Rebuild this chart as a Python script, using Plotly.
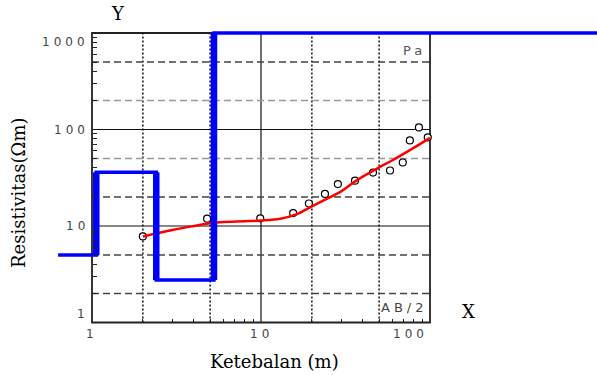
import numpy as np
import plotly.graph_objects as go

# ---------------- data ----------------
# layered model (blue step line)
layer_depth = [1.06, 2.40, 5.27]          # layer boundaries (m)
layer_res = [5.0, 36.0, 2.75, 1000.0]     # layer resistivities (ohm m)
model_x_start = 0.63
model_x_end = 3000.0

# observed apparent resistivity (open circles)
obs_ab2 = [2.0, 4.8, 9.9, 15.5, 19.2, 23.9, 28.5, 36.0, 46.0, 58.0, 69.0, 76.0, 86.0, 97.0]
obs_rho = [7.8, 11.9, 12.0, 13.6, 17.1, 21.5, 27.2, 29.5, 35.8, 37.6, 45.5, 77.0, 105.0, 83.0]

# calculated curve (red)
calc_ab2 = [2, 3, 4, 5, 6, 8, 10, 13, 16, 20, 25, 30, 35, 40, 50, 60, 80, 100]
calc_rho = [7.8, 9.1, 10.0, 10.7, 11.0, 11.2, 11.4, 11.9, 13.1, 16.0, 19.5, 23.0, 28.0, 32.5, 40.5, 48.0, 64.5, 82.0]

x_tick_vals = [1, 10, 100]
x_tick_text = ["1", "10", "100"]
y_tick_vals = [1000, 100, 10, 1]
y_tick_text = ["1000", "100", "10", "1"]

x_grid_solid = [10]
x_grid_dot = [2, 5, 20, 50]
y_grid_solid = [10, 100]
y_grid_dash_dark = [2, 5, 20, 500]
y_grid_dash_light = [50, 200]

# ---------------- geometry (pixels) ----------------
W, H = 597, 375
X1_PX, DEC_X = 92.0, 169.0      # pixel of x=1, pixels per decade
Y1_PX, DEC_Y = 322.5, 96.5      # pixel of y=1, pixels per decade
x_range = [(0 - X1_PX) / DEC_X, (W - X1_PX) / DEC_X]
y_range = [(Y1_PX - H) / DEC_Y, (Y1_PX - 0) / DEC_Y]
xpos_paper = X1_PX / W
ypos_paper = (H - Y1_PX) / H
X_MIN, X_MAX, Y_MIN, Y_MAX = 1, 100, 1, 1000

# ---------------- build step line ----------------
bx, by = [model_x_start], [layer_res[0]]
vx, vy = [], []
for i, d in enumerate(layer_depth):
    bx += [d, d]
    by += [layer_res[i], layer_res[i + 1]]
    vx += [d, d, None]
    vy += [layer_res[i], layer_res[i + 1], None]
bx.append(model_x_end)
by.append(layer_res[-1])

fig = go.Figure()
fig.add_trace(go.Scatter(x=obs_ab2, y=obs_rho, mode="markers",
                         marker=dict(symbol="circle", size=7, color="white",
                                     line=dict(color="black", width=1.2)),
                         showlegend=False))
fig.add_trace(go.Scatter(x=calc_ab2, y=calc_rho, mode="lines",
                         line=dict(color="#ff0000", width=2.5, shape="spline"),
                         showlegend=False))
fig.add_trace(go.Scatter(x=bx, y=by, mode="lines",
                         line=dict(color="#0000ff", width=3.5),
                         showlegend=False))
fig.add_trace(go.Scatter(x=vx, y=vy, mode="lines",
                         line=dict(color="#0000ff", width=6.5),
                         showlegend=False))

shapes = []
for v in x_grid_dot:
    shapes.append(dict(type="line", xref="x", yref="y", x0=v, x1=v, y0=Y_MIN, y1=Y_MAX,
                       line=dict(color="#222", width=1.6, dash="2px,2px"), layer="below"))
for v in x_grid_solid:
    shapes.append(dict(type="line", xref="x", yref="y", x0=v, x1=v, y0=Y_MIN, y1=Y_MAX,
                       line=dict(color="#111", width=1.2), layer="below"))
for v in y_grid_dash_dark:
    shapes.append(dict(type="line", xref="x", yref="y", x0=X_MIN, x1=X_MAX, y0=v, y1=v,
                       line=dict(color="#444", width=1.4, dash="7px,4px"), layer="below"))
for v in y_grid_dash_light:
    shapes.append(dict(type="line", xref="x", yref="y", x0=X_MIN, x1=X_MAX, y0=v, y1=v,
                       line=dict(color="#999", width=1.4, dash="7px,4px"), layer="below"))
for v in y_grid_solid:
    shapes.append(dict(type="line", xref="x", yref="y", x0=X_MIN, x1=X_MAX, y0=v, y1=v,
                       line=dict(color="#111", width=1.2), layer="below"))
shapes.append(dict(type="rect", xref="x", yref="y", x0=X_MIN, x1=X_MAX, y0=Y_MIN, y1=Y_MAX,
                   line=dict(color="#222", width=1.8), layer="below"))

tick_font = dict(family="DejaVu Sans", size=12, color="#444")
ls = "letter-spacing:4px"
ann = []
x_anchors = ["center", "center", "right"]
for v, t, a in zip(x_tick_vals, x_tick_text, x_anchors):
    ann.append(dict(x=np.log10(v), y=ypos_paper, xref="x", yref="paper",
                    text=f'<span style="{ls}">{t}</span>', showarrow=False,
                    xanchor=a, yanchor="top", yshift=-2, font=tick_font))
y_anchors = ["top", "middle", "middle", "bottom"]
for v, t, a in zip(y_tick_vals, y_tick_text, y_anchors):
    ann.append(dict(x=xpos_paper, y=np.log10(v), xref="paper", yref="y",
                    text=f'<span style="{ls}">{t}</span>', showarrow=False,
                    xanchor="right", yanchor=a, xshift=-1, font=tick_font))
ann.append(dict(x=np.log10(X_MAX), y=np.log10(Y_MAX), xref="x", yref="y",
                text=f'<span style="{ls}">Pa</span>', showarrow=False,
                xanchor="right", yanchor="top", xshift=-2, yshift=-8,
                font=dict(family="DejaVu Sans", size=13, color="#555")))
ann.append(dict(x=np.log10(X_MAX), y=np.log10(Y_MIN), xref="x", yref="y",
                text=f'<span style="{ls}">AB/2</span>', showarrow=False,
                xanchor="right", yanchor="bottom", xshift=-1, yshift=6,
                font=dict(family="DejaVu Sans", size=13, color="#444")))

serif = dict(family="DejaVu Serif", size=18, color="black")
ann.append(dict(x=118 / W, y=1 - 14 / H, xref="paper", yref="paper", text="Y",
                showarrow=False, xanchor="center", yanchor="middle", font=serif))
ann.append(dict(x=468 / W, y=1 - 311 / H, xref="paper", yref="paper", text="X",
                showarrow=False, xanchor="center", yanchor="middle", font=serif))
ann.append(dict(x=274 / W, y=1 - 361 / H, xref="paper", yref="paper", text="Ketebalan (m)",
                showarrow=False, xanchor="center", yanchor="middle", font=serif))
ann.append(dict(x=18 / W, y=1 - 193 / H, xref="paper", yref="paper", text="Resistivitas(Ωm)",
                showarrow=False, xanchor="center", yanchor="middle", textangle=-90, font=serif))

minor_x = [v * m for m in [1, 10] for v in range(2, 10)]
minor_y = [v * m for m in [1, 10, 100] for v in range(2, 10)]

fig.update_layout(
    width=W, height=H, margin=dict(l=0, r=0, t=0, b=0),
    paper_bgcolor="white", plot_bgcolor="white",
    shapes=shapes, annotations=ann, showlegend=False,
    xaxis=dict(type="log", range=x_range, domain=[0, 1], anchor="free", position=ypos_paper,
               showgrid=False, zeroline=False, showline=False,
               tickmode="array", tickvals=minor_x, ticks="inside", ticklen=4,
               tickcolor="#222", tickwidth=1.2, showticklabels=False),
    yaxis=dict(type="log", range=y_range, domain=[0, 1], anchor="free", position=xpos_paper,
               showgrid=False, zeroline=False, showline=False,
               tickmode="array", tickvals=minor_y, ticks="inside", ticklen=4,
               tickcolor="#222", tickwidth=1.2, showticklabels=False),
)
fig.write_html("out.html")
